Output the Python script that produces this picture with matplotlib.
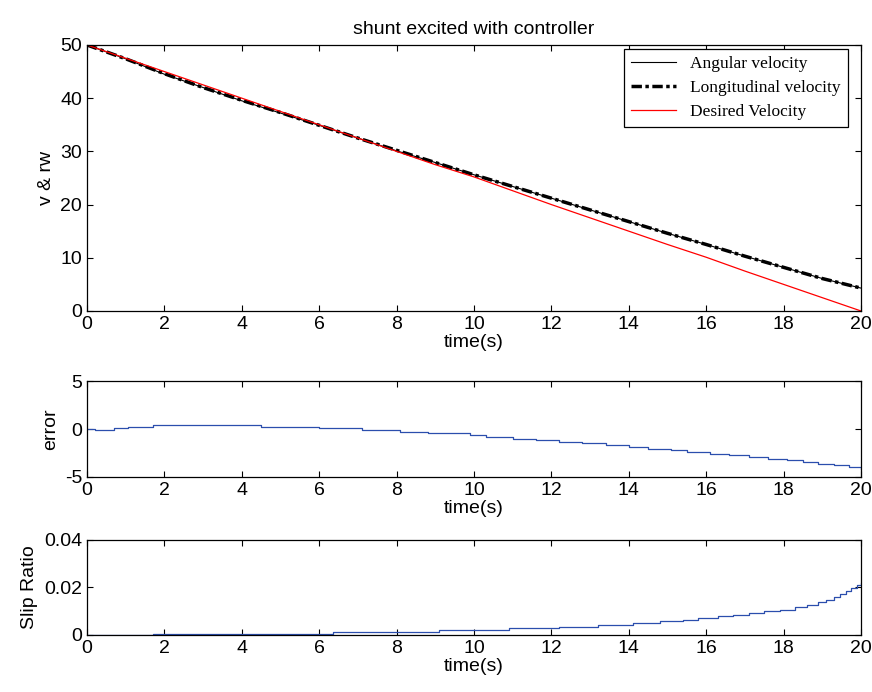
import numpy as np
import matplotlib
matplotlib.use("Agg")
from matplotlib import pyplot as plt

# top panel, sampled every second
t_top = list(range(0, 21))
desired = [50, 47.5, 45, 42.5, 40, 37.5, 35, 32.5, 30, 27.5, 25.2,
           22.6, 20, 17.5, 15, 12.5, 10.1, 7.5, 5, 2.5, 0]
longitudinal = [50, 47.4, 44.6, 42.0, 39.6, 37.3, 34.9, 32.5, 30.2, 27.9, 25.6,
                23.4, 21.2, 19.0, 16.8, 14.6, 12.5, 10.3, 8.2, 6.1, 4.3]
angular = [50, 47.4, 44.5, 42.0, 39.5, 37.2, 34.9, 32.5, 30.1, 27.9, 25.6,
           23.4, 21.2, 19.0, 16.8, 14.6, 12.5, 10.3, 8.2, 6.1, 4.3]

# error (staircase)
t_err = [0, 0.2, 0.7, 1.05, 1.7, 4.5, 6.0, 7.1, 8.1, 8.8, 9.9, 10.3, 11.0, 11.6,
         12.2, 12.8, 13.4, 14.0, 14.5, 15.1, 15.5, 16.1, 16.6, 17.1, 17.6, 18.1,
         18.5, 18.9, 19.3, 19.7, 20.0]
err = [0, -0.1, 0.07, 0.21, 0.46, 0.25, 0.07, -0.11, -0.28, -0.46, -0.63, -0.81,
       -0.99, -1.16, -1.34, -1.51, -1.69, -1.87, -2.04, -2.22, -2.39, -2.57, -2.75,
       -2.92, -3.1, -3.27, -3.45, -3.63, -3.8, -3.98, -4.12]

# slip ratio (staircase)
t_slip = [0, 1.7, 6.35, 9.1, 10.9, 12.2, 13.2, 14.1, 14.8, 15.4, 15.8, 16.3, 16.7,
          17.1, 17.5, 17.9, 18.3, 18.6, 18.9, 19.1, 19.3, 19.45, 19.6, 19.75, 19.9, 20.0]
slip = [0, 0.0005, 0.0014, 0.0021, 0.0028, 0.0034, 0.0041, 0.005, 0.0058, 0.0065,
        0.0072, 0.0079, 0.0086, 0.0092, 0.0099, 0.0106, 0.0117, 0.0128, 0.0138,
        0.0148, 0.016, 0.0172, 0.0185, 0.0198, 0.021, 0.022]

plt.rcParams["font.family"] = ["Liberation Sans", "DejaVu Sans"]
plt.rcParams["font.size"] = 14
plt.rcParams["axes.unicode_minus"] = False
plt.rcParams["xtick.direction"] = "in"
plt.rcParams["ytick.direction"] = "in"
plt.rcParams["xtick.top"] = True
plt.rcParams["ytick.right"] = True
plt.rcParams["xtick.major.size"] = 4
plt.rcParams["ytick.major.size"] = 4

fig = plt.figure(figsize=(8.72, 6.92), dpi=100)
ax1 = fig.add_axes([0.0998, 0.5506, 0.8876, 0.3844])
ax2 = fig.add_axes([0.0998, 0.3107, 0.8876, 0.1387])
ax3 = fig.add_axes([0.0998, 0.0824, 0.8876, 0.1373])

ax1.plot(t_top, angular, color="black", lw=0.8, label="Angular velocity")
ax1.plot(t_top, longitudinal, color="black", lw=2.5, dashes=(3, 1, 1, 1),
         label="Longitudinal velocity")
ax1.plot(t_top, desired, color="red", lw=0.9, label="Desired Velocity")
ax1.set_xlim(0, 20)
ax1.set_ylim(0, 50)
ax1.set_xticks(range(0, 21, 2))
ax1.set_yticks(range(0, 51, 10))
ax1.set_xlabel("time(s)", labelpad=1)
ax1.set_ylabel("v & rw")
ax1.set_title("shunt excited with controller", fontsize=14, pad=8)
leg = ax1.legend(loc="upper right", bbox_to_anchor=(0.983, 0.985), borderaxespad=0,
                 fancybox=False, edgecolor="black", framealpha=1,
                 prop={"family": "Liberation Serif", "size": 12.5},
                 handlelength=2.6, labelspacing=0.45)
leg.get_frame().set_linewidth(0.9)

ax2.plot(t_err, err, color="#2b4ead", lw=0.9, drawstyle="steps-post")
ax2.set_xlim(0, 20)
ax2.set_ylim(-5, 5)
ax2.set_xticks(range(0, 21, 2))
ax2.set_yticks([-5, 0, 5])
ax2.set_xlabel("time(s)", labelpad=1)
ax2.set_ylabel("error")

ax3.plot(t_slip, slip, color="#2b4ead", lw=0.9, drawstyle="steps-post")
ax3.set_xlim(0, 20)
ax3.set_ylim(0, 0.04)
ax3.set_xticks(range(0, 21, 2))
ax3.set_yticks([0, 0.02, 0.04])
ax3.set_yticklabels(["0", "0.02", "0.04"])
ax3.set_xlabel("time(s)", labelpad=1)
ax3.set_ylabel("Slip Ratio")

for ax in (ax1, ax2, ax3):
    for s in ax.spines.values():
        s.set_linewidth(0.9)

fig.savefig("out.png", dpi=100)
